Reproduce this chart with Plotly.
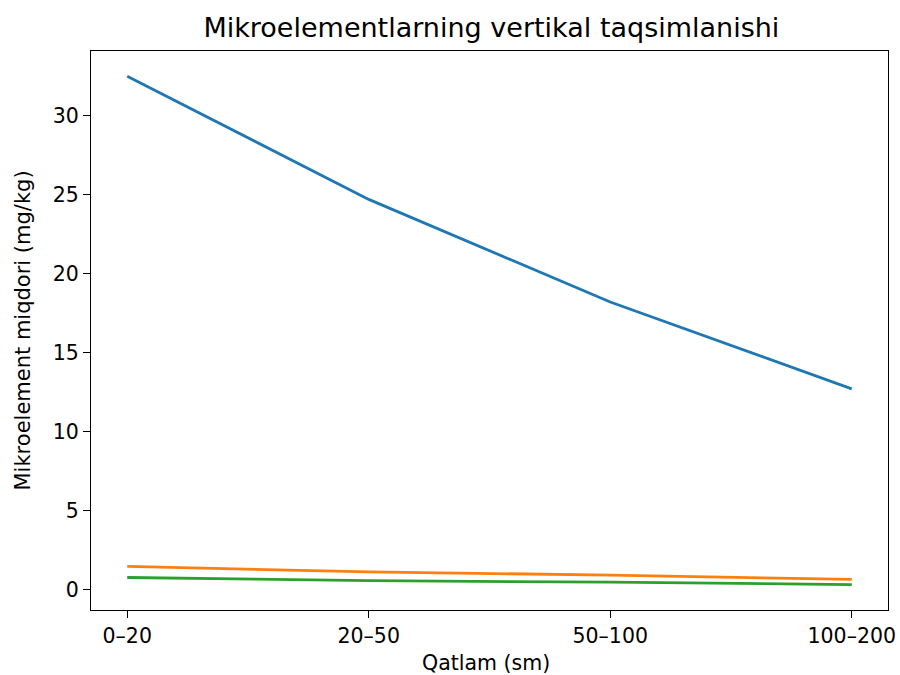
import plotly.graph_objects as go

layers = ["0–20", "20–50", "50–100", "100–200"]
series_a = [32.5, 24.7, 18.2, 12.7]
series_b = [1.45, 1.1, 0.9, 0.63]
series_c = [0.75, 0.55, 0.45, 0.3]
colors = ["#1f77b4", "#ff7f0e", "#2ca02c"]

fig = go.Figure()
for vals, c in zip([series_a, series_b, series_c], colors):
    fig.add_trace(go.Scatter(x=list(range(len(layers))), y=vals, mode="lines",
                             line=dict(color=c, width=2.8), showlegend=False))

font = "DejaVu Sans, sans-serif"
fig.update_layout(
    width=900, height=675,
    paper_bgcolor="white", plot_bgcolor="white",
    margin=dict(l=91, r=12, t=51, b=65, autoexpand=False),
    title=dict(text="Mikroelementlarning vertikal taqsimlanishi", x=0.546, xanchor="center",
               y=1 - 28/675, yanchor="middle", font=dict(family=font, size=27, color="black")),
    font=dict(family=font, size=20.5, color="black"),
    annotations=[
        dict(text="Qatlam (sm)", xref="paper", yref="paper", x=0.495, y=-53/559, xanchor="center",
             yanchor="middle", showarrow=False, font=dict(size=20.5)),
        dict(text="Mikroelement miqdori (mg/kg)", xref="paper", yref="paper", x=-69/797, y=0.5,
             xanchor="center", yanchor="middle", textangle=-90, showarrow=False, font=dict(size=21)),
    ],
)
fig.update_xaxes(range=[-0.15, 3.15], tickmode="array", tickvals=list(range(len(layers))), ticktext=layers,
                 showgrid=False, zeroline=False, showline=True, linecolor="black", linewidth=1.3, mirror=True,
                 ticks="outside", ticklen=7, tickwidth=1.3, tickcolor="black", automargin=False)
fig.update_yaxes(range=[-1.31, 34.1], tickvals=[0, 5, 10, 15, 20, 25, 30],
                 showgrid=False, zeroline=False, showline=True, linecolor="black", linewidth=1.3, mirror=True,
                 ticks="outside", ticklen=7, tickwidth=1.3, tickcolor="black", automargin=False)

fig.write_html("out.html", config={"displayModeBar": False},
               post_script="document.body.style.margin='0';document.body.style.overflow='hidden';")
